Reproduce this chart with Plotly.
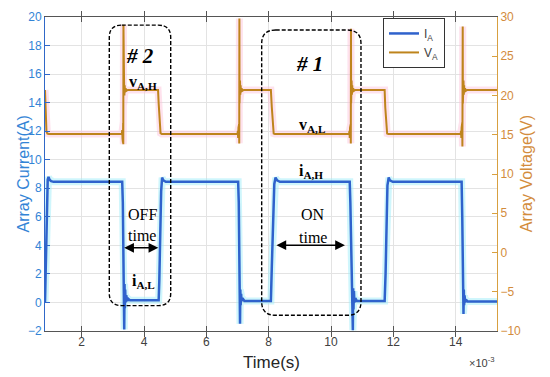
import plotly.graph_objects as go

# ---------------- data (time in ms, i.e. x10^-3 s) ----------------
t_I = [0.823, 0.85, 0.88, 0.91, 0.935, 0.97, 1.02, 1.10,
       3.30, 3.32, 3.34, 3.355, 3.365, 3.375, 3.385, 3.395, 3.41, 3.43, 3.46, 3.50, 3.55,
       4.47, 4.49, 4.52, 4.55, 4.58, 4.62, 4.70,
       7.02, 7.04, 7.06, 7.07, 7.08, 7.09, 7.10, 7.115, 7.13, 7.16, 7.22,
       8.07, 8.10, 8.14, 8.18, 8.22, 8.27, 8.36,
       10.60, 10.62, 10.65, 10.67, 10.685, 10.70, 10.71, 10.72, 10.735, 10.75, 10.78, 10.83,
       11.72, 11.75, 11.78, 11.81, 11.85, 11.89, 11.98,
       14.19, 14.21, 14.225, 14.235, 14.25, 14.26, 14.27, 14.285, 14.30, 14.33, 14.38,
       15.325]
I_A = [0.0, 3.0, 7.0, 8.6, 8.8, 8.6, 8.5, 8.45,
       8.45, 7.0, 3.0, 0.5, -1.9, 1.3, -0.4, 0.9, 0.0, 0.5, 0.1, 0.25, 0.15,
       0.15, 1.5, 5.0, 7.8, 8.75, 8.55, 8.45,
       8.45, 7.0, 2.5, 0.4, -1.5, 0.9, -0.2, 0.6, 0.1, 0.3, 0.1,
       0.1, 2.5, 6.0, 8.3, 8.75, 8.55, 8.45,
       8.45, 7.0, 3.5, 0.8, 0.1, -1.95, 1.0, -0.5, 0.8, 0.0, 0.3, 0.1,
       0.1, 2.0, 5.5, 8.2, 8.75, 8.55, 8.45,
       8.45, 6.0, 1.5, 1.0, -0.8, 0.9, -0.2, 0.5, 0.0, 0.2, 0.07,
       0.07]

t_V = [0.823, 0.835, 0.85, 0.87, 0.90, 0.95,
       3.29, 3.30, 3.31, 3.32, 3.325, 3.33, 3.335, 3.34, 3.345, 3.35, 3.355, 3.36, 3.37, 3.38, 3.39, 3.41, 3.44, 3.48,
       4.45, 4.47, 4.50, 4.53, 4.57,
       7.00, 7.01, 7.02, 7.03, 7.04, 7.05, 7.055, 7.06, 7.065, 7.07, 7.075, 7.08, 7.09, 7.10, 7.11, 7.13, 7.16, 7.20,
       8.07, 8.10, 8.13, 8.16, 8.20,
       10.58, 10.59, 10.60, 10.61, 10.62, 10.63, 10.635, 10.64, 10.645, 10.65, 10.655, 10.66, 10.67, 10.68, 10.69, 10.71, 10.74, 10.78,
       11.72, 11.74, 11.77, 11.80, 11.84,
       14.16, 14.17, 14.18, 14.19, 14.20, 14.21, 14.215, 14.225, 14.23, 14.235, 14.24, 14.25, 14.26, 14.27, 14.28, 14.30, 14.33, 14.37,
       15.325]
V_A = [20.7, 19.5, 16.5, 15.4, 15.15, 15.1,
       15.1, 15.6, 14.5, 15.9, 14.0, 16.5, 13.8, 29.0, 18.8, 22.5, 19.5, 21.8, 20.0, 21.3, 20.4, 20.9, 20.6, 20.7,
       20.7, 19.0, 16.0, 15.2, 15.1,
       15.1, 15.5, 14.6, 15.9, 14.2, 16.3, 13.9, 29.8, 19.0, 22.8, 19.6, 21.9, 20.1, 21.3, 20.4, 20.9, 20.6, 20.7,
       20.7, 18.5, 15.8, 15.15, 15.1,
       15.1, 15.5, 14.6, 15.9, 14.2, 16.3, 13.9, 28.5, 19.0, 22.8, 19.6, 21.9, 20.1, 21.3, 20.4, 20.9, 20.6, 20.7,
       20.7, 18.5, 15.8, 15.15, 15.1,
       15.1, 15.5, 14.6, 15.9, 14.0, 16.5, 13.5, 28.8, 19.0, 22.8, 19.6, 21.9, 20.1, 21.3, 20.4, 20.9, 20.6, 20.7,
       20.7]

x_ticks = [2, 4, 6, 8, 10, 12, 14]
y1_ticks = [-2, 0, 2, 4, 6, 8, 10, 12, 14, 16, 18, 20]
y2_ticks = [-10, -5, 0, 5, 10, 15, 20, 25, 30]

# ---------------- styles ----------------
BLUE = "#2F62CC"
ORANGE = "#BE841C"
AX_BLUE = "#3384D6"
AX_ORANGE = "#D38C3C"
SANS = "Liberation Sans, Arial, sans-serif"
SERIF = "Liberation Serif, Times New Roman, serif"

fig = go.Figure()
# soft halos (jpeg-like glow of reference)
fig.add_trace(go.Scatter(x=t_I, y=I_A, mode="lines", showlegend=False, hoverinfo="skip",
                         line=dict(color="rgba(160,238,250,0.5)", width=7)))
fig.add_trace(go.Scatter(x=t_I, y=I_A, mode="lines", name="I<sub>A</sub>",
                         line=dict(color=BLUE, width=2.5)))
fig.add_trace(go.Scatter(x=t_V, y=V_A, yaxis="y2", mode="lines", showlegend=False, hoverinfo="skip",
                         line=dict(color="rgba(252,190,215,0.45)", width=7)))
fig.add_trace(go.Scatter(x=t_V, y=V_A, yaxis="y2", mode="lines", name="V<sub>A</sub>",
                         line=dict(color=ORANGE, width=2)))


def rounded(x0, x1, y0, y1, rx, ry):
    return (f"M {x0+rx},{y1} L {x1-rx},{y1} Q {x1},{y1} {x1},{y1-ry} "
            f"L {x1},{y0+ry} Q {x1},{y0} {x1-rx},{y0} L {x0+rx},{y0} "
            f"Q {x0},{y0} {x0},{y0+ry} L {x0},{y1-ry} Q {x0},{y1} {x0+rx},{y1} Z")


box_line = dict(color="black", width=1.4, dash="4px,2px")
shapes = [
    dict(type="path", xref="x", yref="y", layer="above", line=box_line,
         path=rounded(2.886, 4.856, -0.22, 19.43, 0.40, 0.85)),
    dict(type="path", xref="x", yref="y", layer="above", line=box_line,
         path=rounded(7.775, 10.961, -0.90, 19.09, 0.45, 0.95)),
]


def txt(x, y, text, size=16, family=SERIF, color="black"):
    return dict(x=x, y=y, xref="x", yref="y", text=text, showarrow=False,
                font=dict(family=family, size=size, color=color))


def arrow(xa, xb, y):
    return dict(x=xb, y=y, ax=xa, ay=y, xref="x", yref="y", axref="x", ayref="y",
                text="", showarrow=True, arrowhead=2, startarrowhead=2, arrowside="end+start",
                arrowsize=1.3, startarrowsize=1.3, arrowwidth=1.5, arrowcolor="black")


annotations = [
    txt(3.855, 17.26, "<b><i># 2</i></b>", 21),
    txt(9.325, 16.71, "<b><i># 1</i></b>", 21),
    txt(3.97, 15.41, "<b>v<sub>A,H</sub></b>", 16),
    txt(9.39, 12.39, "<b>v<sub>A,L</sub></b>", 16),
    txt(9.36, 9.17, "<b>i<sub>A,H</sub></b>", 16),
    txt(3.97, 1.49, "<b>i<sub>A,L</sub></b>", 16),
    txt(3.935, 6.155, "OFF", 16),
    txt(3.935, 4.72, "time", 16),
    txt(9.42, 6.155, "ON", 16),
    txt(9.42, 4.58, "time", 16),
    arrow(3.316, 4.458, 3.83),
    arrow(8.201, 10.447, 4.01),
    dict(x=0.5, y=-0.0997, xref="paper", yref="paper", text="Time(s)", showarrow=False,
         yanchor="middle", font=dict(family=SANS, size=17, color="#262626")),
    dict(x=1.0, y=-0.0997, xref="paper", yref="paper", text="×10<sup>-3</sup>", showarrow=False,
         xanchor="right", yanchor="middle", font=dict(family=SANS, size=11, color="#404040")),
    dict(x=-0.0708, y=0.5, xref="paper", yref="paper", text="Array Current(A)", showarrow=False,
         textangle=-90, font=dict(family=SANS, size=16, color=AX_BLUE)),
    dict(x=1.088, y=0.5, xref="paper", yref="paper", text="Array Voltage(V)", showarrow=False,
         textangle=-90, font=dict(family=SANS, size=16, color=AX_ORANGE)),
]

fig.update_layout(
    width=550, height=377,
    margin=dict(l=45, r=53, t=10, b=46),
    paper_bgcolor="white", plot_bgcolor="white",
    showlegend=True,
    legend=dict(x=0.7478, y=0.997, xanchor="left", yanchor="top",
                bgcolor="white", bordercolor="#333333", borderwidth=1,
                font=dict(family=SANS, size=12, color="#404040"),
                tracegroupgap=0),
    xaxis=dict(range=[0.823, 15.325], tickvals=x_ticks, ticktext=[str(v) for v in x_ticks],
               showgrid=True, gridcolor="#E3E3E3", zeroline=False,
               showline=True, linecolor="#555555", linewidth=1, mirror="allticks",
               ticks="inside", ticklen=5, tickcolor="#555555",
               tickfont=dict(family=SANS, size=12, color="#404040")),
    yaxis=dict(range=[-2, 20], tickvals=y1_ticks, showgrid=True, gridcolor="#E3E3E3", zeroline=False,
               showline=True, linecolor="#3068C8", linewidth=1,
               ticks="inside", ticklen=5, tickcolor="#3068C8", ticklabeloverflow="allow",
               tickfont=dict(family=SANS, size=12, color=AX_BLUE)),
    yaxis2=dict(range=[-10, 30], tickvals=y2_ticks, overlaying="y", side="right",
                showgrid=False, zeroline=False,
                showline=True, linecolor="#D8A040", linewidth=1,
                ticks="inside", ticklen=5, tickcolor="#D8A040", ticklabeloverflow="allow",
                tickfont=dict(family=SANS, size=12, color=AX_ORANGE)),
    shapes=shapes,
    annotations=annotations,
)

# remove the default 8px page margin so the 550x377 figure fills the window exactly
fig.write_html("out.html", config={"displayModeBar": False},
               post_script="document.body.style.margin='0';")
